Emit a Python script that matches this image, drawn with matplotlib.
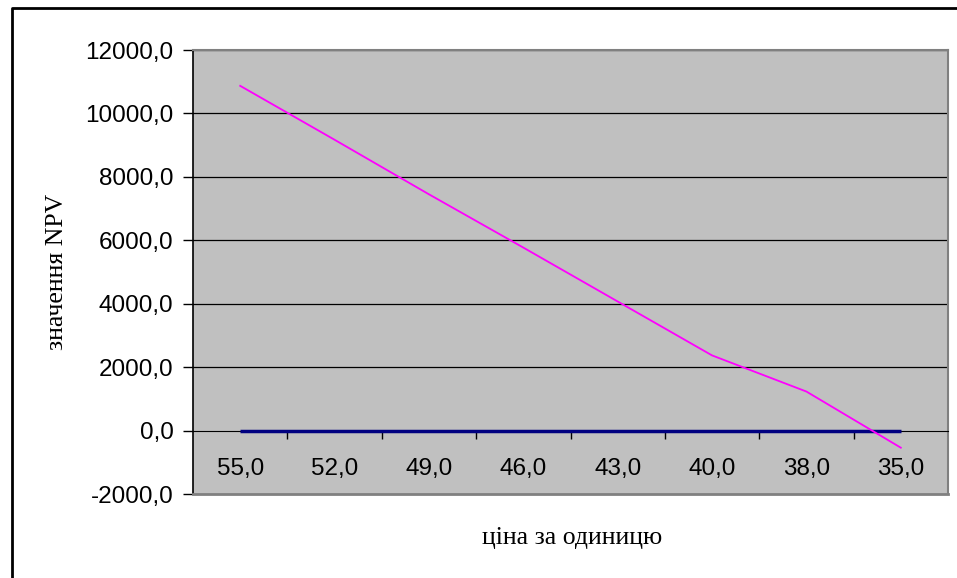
import matplotlib.pyplot as plt
from matplotlib.lines import Line2D

# price per unit (categories) and NPV values
prices = ['55,0', '52,0', '49,0', '46,0', '43,0', '40,0', '38,0', '35,0']
npv = [10870, 9170, 7450, 5770, 4070, 2370, 1230, -540]
zero_line = [0, 0, 0, 0, 0, 0, 0, 0]

y_ticks = [-2000, 0, 2000, 4000, 6000, 8000, 10000, 12000]
y_labels = ['-2000,0', '0,0', '2000,0', '4000,0', '6000,0', '8000,0', '10000,0', '12000,0']

W, H = 957, 578
fig = plt.figure(figsize=(W / 100, H / 100), dpi=100)
fig.patch.set_facecolor('white')

# outer chart border (only top and left are visible in the crop)
fig.add_artist(Line2D([12 / W, 12 / W, 1], [0, 1 - 8 / H, 1 - 8 / H],
                      transform=fig.transFigure, color='black', linewidth=2))

ax = fig.add_axes([193 / W, 1 - 494 / H, 755 / W, 444 / H])
ax.set_facecolor('#C0C0C0')

x = list(range(len(prices)))
ax.plot(x, zero_line, color='#000080', linewidth=2.5, zorder=3, solid_capstyle='butt')
ax.plot(x, npv, color='#FF00FF', linewidth=1.3, zorder=4)

ax.set_xlim(-0.5, len(prices) - 0.5)
ax.set_ylim(-2000, 12000)

# gridlines
for v in y_ticks[2:]:
    ax.axhline(v, color='black', linewidth=0.9, zorder=1)

ax.set_yticks(y_ticks)
ax.set_yticklabels(y_labels, fontname='Liberation Sans', fontsize=17.5)
ax.tick_params(axis='y', direction='out', length=7, width=1, pad=7)

# category axis sits on the zero line
ax.spines['bottom'].set_position(('data', 0))
ax.spines['bottom'].set_color('black')
ax.set_xticks([i + 0.5 for i in range(len(prices) - 1)])
ax.set_xticklabels([])
ax.tick_params(axis='x', which='major', direction='out', length=6, width=1)
ax.set_xticks(x, minor=True)
ax.set_xticklabels(prices, minor=True, fontname='Liberation Sans', fontsize=17.5)
ax.tick_params(axis='x', which='minor', length=0, pad=20)

ax.spines['left'].set_color('black')
ax.spines['left'].set_linewidth(1.2)
ax.spines['top'].set_color('#808080')
ax.spines['right'].set_color('#808080')
ax.spines['top'].set_linewidth(1.5)
ax.spines['right'].set_linewidth(1.5)
ax.axhline(-2000, color='#808080', linewidth=2, clip_on=False, zorder=5)

fig.text(57 / W, 1 - 272 / H, 'значення NPV', rotation=90, ha='center', va='center',
         fontname='Liberation Serif', fontsize=18.5)
fig.text(572 / W, 1 - 544 / H, 'ціна за одиницю', ha='center', va='baseline',
         fontname='Liberation Serif', fontsize=18.5)

fig.savefig('out.png', dpi=100)
